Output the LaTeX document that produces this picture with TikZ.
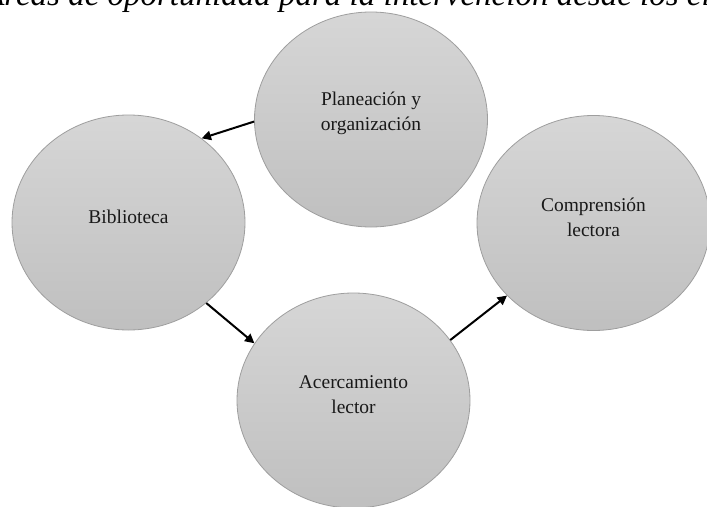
\documentclass[tikz,border=0pt]{standalone}
\usepackage{fontspec}
\setmainfont{Liberation Serif}
\usepackage{tikz}
\usetikzlibrary{shapes.geometric,arrows.meta}
\tikzstyle{bubble}=[ellipse, draw=black!38, line width=.6pt, top color=black!16, bottom color=black!25, minimum width=174.75pt, minimum height=161.25pt, inner sep=0pt]
\tikzstyle{lbl}=[align=center, font=\fontsize{14.6}{18.75}\selectfont, yshift=4.5pt, text=black!90]
\tikzstyle{flow}=[line width=1.5pt, -{Triangle[length=7pt,width=7pt]}]

\begin{document}
\begin{tikzpicture}[x=.75pt, y=-.75pt]
	\useasboundingbox (0,0) rectangle (707,507);
	\clip (0,0) rectangle (707,507);
	\node[anchor=base west, inner sep=0pt, font=\fontsize{24.75}{30}\selectfont\itshape] (titulo) at (-16,5) {Áreas de oportunidad para la intervención desde los el};
	\node[bubble, label={[lbl]center:{Planeación y\\organización}}] (plan) at (371,119.5) {};
	\node[bubble, label={[lbl]center:{Biblioteca}}] (bib) at (128.5,222.5) {};
	\node[bubble, label={[lbl]center:{Acercamiento\\lector}}] (acerc) at (353.5,400.5) {};
	\node[bubble, label={[lbl]center:{Comprensión\\lectora}}] (comp) at (593.5,223) {};
	\draw[flow] (plan.181) -- (bib.49);
	\draw[flow] (bib.-46) -- (acerc.150);
	\draw[flow] (acerc.32) -- (comp.220);
\end{tikzpicture}
\end{document}
